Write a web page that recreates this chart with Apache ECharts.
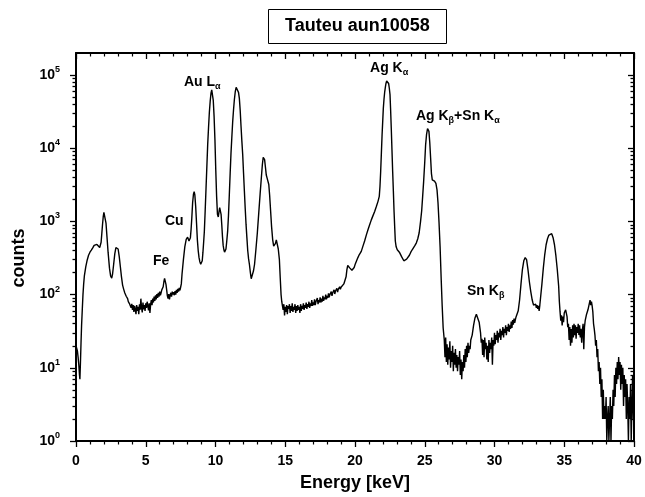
<!DOCTYPE html>
<html>
<head>
<meta charset="utf-8">
<title>Tauteu aun10058</title>
<script src="https://cdn.jsdelivr.net/npm/echarts@6/dist/echarts.min.js"></script>
<style>
  html, body { margin: 0; padding: 0; background: #fff; }
  #chart { width: 645px; height: 497px; }
</style>
</head>
<body>
<div id="chart"></div>
<script>
// spectrum: [energy keV, counts], one array per region
const lowEnergy = [
  [0.00,20],[0.05,19],[0.10,17],[0.15,14],[0.20,11],[0.25,8],[0.28,7],[0.32,12],[0.36,22],[0.40,38],
  [0.45,62],[0.50,100],[0.55,140],[0.60,180],[0.70,240],[0.80,295],[0.90,345],[1.00,380],[1.10,405],
  [1.20,435],[1.30,470],[1.40,495],[1.50,485],[1.60,465],[1.70,440],[1.75,445],[1.80,520],[1.85,680],
  [1.90,900],[1.95,1150],[2.00,1330],[2.03,1380],[2.08,1250],[2.15,950],[2.22,620],[2.30,380],[2.40,230],
  [2.48,180],[2.56,168],[2.62,190],[2.70,260],[2.78,360],[2.86,440],[2.94,460],[3.02,420],[3.10,330],
  [3.18,240],[3.26,175],[3.34,135],[3.42,118],[3.50,105],[3.60,95],[3.65,90]
];
const feRegion = [
  [3.70,88],[3.75,80],[3.80,84],[3.85,74],[3.90,78],[3.95,66],[4.00,75],[4.05,62],[4.10,72],[4.15,58],
  [4.20,70],[4.25,63],[4.30,54],[4.35,72],[4.40,60],[4.45,68],[4.50,54],[4.55,74],[4.60,62],[4.65,88],
  [4.70,66],[4.75,57],[4.80,78],[4.85,63],[4.90,72],[4.95,60],[5.00,76],[5.05,66],[5.10,80],[5.15,70],
  [5.20,61],[5.25,76],[5.30,56],[5.35,74],[5.40,84],[5.45,72],[5.50,88],[5.55,78],[5.60,94],[5.65,82],
  [5.70,98],[5.75,86],[5.80,102],[5.85,90],[5.90,106],[5.95,94],[6.00,110],[6.05,98],[6.10,106],[6.15,116],
  [6.20,110],[6.25,128],[6.30,150],[6.35,166],[6.40,158],[6.45,138],[6.50,116],[6.55,96],[6.60,88],[6.65,102],
  [6.70,86],[6.75,98],[6.80,106],[6.85,94],[6.90,110],[6.95,100],[7.00,108],[7.05,98],[7.10,112],[7.15,100],
  [7.20,116],[7.25,106],[7.30,120],[7.35,110],[7.40,124],[7.45,114],[7.50,126],[7.55,140],[7.60,190]
];
const auLines = [
  [7.70,300],[7.80,450],[7.90,570],[8.00,610],[8.05,600],[8.10,540],[8.15,520],[8.20,600],[8.25,780],
  [8.30,1100],[8.36,1800],[8.42,2350],[8.47,2550],[8.52,2300],[8.58,1600],[8.64,950],[8.70,560],[8.76,400],
  [8.82,320],[8.88,280],[8.94,260],[9.00,250],[9.05,290],[9.10,380],[9.15,520],[9.20,730],[9.26,1400],
  [9.32,2800],[9.38,5600],[9.44,11200],[9.50,19000],[9.56,31000],[9.62,44000],[9.68,57000],[9.73,62500],
  [9.78,60000],[9.84,45000],[9.90,27000],[9.96,13000],[10.02,5000],[10.08,2200],[10.14,1250],[10.20,1150],
  [10.25,1350],[10.30,1540],[10.35,1500],[10.40,1250],[10.45,900],[10.50,620],[10.55,470],[10.60,410],
  [10.65,380],[10.70,375],[10.75,420],[10.80,520],[10.87,730],[10.93,1200],[10.99,2300],[11.05,4500],
  [11.11,8500],[11.17,14000],[11.23,22700],[11.29,33000],[11.35,45600],[11.42,60000],[11.48,68000],
  [11.52,69000],[11.58,66000],[11.65,58000],[11.71,48000],[11.77,33000],[11.83,20000],[11.89,12500],
  [11.95,8200],[12.01,4600],[12.07,2600],[12.13,1500],[12.19,910],[12.25,600],[12.31,400],[12.37,310],
  [12.43,260],[12.50,200],[12.56,165],[12.60,158],[12.66,170],[12.72,210],[12.80,260],[12.90,420],
  [13.00,700],[13.10,1300],[13.20,2400],[13.28,3800],[13.36,6000],[13.42,7500],[13.46,7700],[13.52,7000],
  [13.58,5500],[13.64,4300],[13.70,3900],[13.76,3700],[13.82,3200],[13.88,2300],[13.95,1400],[14.02,850],
  [14.10,560],[14.17,460],[14.23,440],[14.30,500],[14.36,560],[14.42,540],[14.50,420],[14.58,300],
  [14.64,170],[14.70,100],[14.75,80]
];
const flatRegion = [
  [14.80,70],[14.85,62],[14.90,74],[14.95,52],[15.00,68],[15.05,58],[15.10,72],[15.15,54],[15.20,70],
  [15.25,64],[15.30,74],[15.35,56],[15.40,70],[15.45,60],[15.50,76],[15.55,58],[15.60,68],[15.65,62],
  [15.70,74],[15.75,56],[15.80,70],[15.85,60],[15.90,72],[15.95,62],[16.00,68],[16.05,56],[16.10,74],
  [16.15,60],[16.20,70],[16.25,64],[16.30,76],[16.35,62],[16.40,72],[16.45,66],[16.50,78],[16.55,64],
  [16.60,74],[16.65,68],[16.70,80],[16.75,66],[16.80,76],[16.85,70],[16.90,84],[16.95,70],[17.00,78],
  [17.05,72],[17.10,86],[17.15,72],[17.20,80],[17.25,76],[17.30,90],[17.35,74],[17.40,84],[17.45,78],
  [17.50,92],[17.55,78],[17.60,88],[17.65,80],[17.70,96],[17.75,82],[17.80,92],[17.85,86],[17.90,100],
  [17.95,86],[18.00,96],[18.05,90],[18.10,104],[18.15,92],[18.20,100],[18.25,96],[18.30,110],[18.35,96],
  [18.40,106],[18.45,100],[18.50,116],[18.55,102],[18.60,112],[18.65,108],[18.70,122],[18.75,108],
  [18.80,118],[18.85,114],[18.90,128],[18.95,118],[19.00,126],[19.05,124],[19.10,134],[19.20,140],[19.30,145]
];
const agLines = [
  [19.36,175],[19.42,220],[19.48,250],[19.54,240],[19.62,232],[19.70,225],[19.78,215],[19.86,210],
  [19.94,235],[20.00,255],[20.10,285],[20.20,318],[20.30,350],[20.45,390],[20.57,460],[20.69,540],
  [20.81,650],[20.93,770],[21.05,900],[21.17,1050],[21.29,1200],[21.41,1370],[21.53,1600],[21.65,1880],
  [21.74,2200],[21.79,3000],[21.84,4800],[21.89,8500],[21.94,15000],[21.99,24000],[22.03,35000],
  [22.08,47000],[22.13,59000],[22.18,69000],[22.22,76700],[22.27,83000],[22.32,85500],[22.37,83000],
  [22.41,76700],[22.46,66000],[22.51,54000],[22.55,35000],[22.60,18700],[22.65,9500],[22.70,4800],
  [22.75,2600],[22.80,1370],[22.85,800],[22.89,540],[22.95,450],[23.03,410],[23.10,395],[23.18,380],
  [23.26,360],[23.34,330],[23.42,310],[23.50,290],[23.56,280],[23.62,290],[23.70,305],[23.80,320],
  [23.90,345],[24.00,380],[24.10,410],[24.20,440],[24.30,470],[24.40,510],[24.50,580],[24.60,700],
  [24.70,1000],[24.78,1400],[24.85,2200],[24.92,3500],[25.00,6500],[25.06,11000],[25.13,15500],
  [25.20,18500],[25.25,18800],[25.30,17000],[25.36,12000],[25.42,7400],[25.48,4500],[25.54,3700],
  [25.62,3650],[25.70,3550],[25.80,3300],[25.88,2700],[25.95,1800],[26.02,1000],[26.10,450],[26.18,160],
  [26.25,70],[26.32,35]
];
const snRegion = [
  [26.40,24],[26.45,14],[26.50,26],[26.55,12],[26.60,21],[26.65,11],[26.70,19],[26.75,13],[26.80,23],
  [26.85,10],[26.90,17],[26.95,12],[27.00,20],[27.05,9],[27.10,16],[27.15,11],[27.20,18],[27.25,10],
  [27.30,15],[27.35,9],[27.40,14],[27.45,11],[27.50,17],[27.55,8],[27.60,13],[27.65,7],[27.70,12],
  [27.75,9],[27.80,15],[27.85,10],[27.90,18],[27.95,12],[28.00,20],[28.05,14],[28.10,22],[28.15,16],
  [28.20,20],[28.25,18],[28.30,24],[28.40,28],[28.50,38],[28.60,48],[28.70,54],[28.75,56],[28.80,52],
  [28.90,42],[29.00,30],[29.05,22],[29.10,25],[29.15,15],[29.20,24],[29.25,14],[29.30,26],[29.35,18],
  [29.40,22],[29.45,13],[29.50,20],[29.55,12],[29.60,24],[29.65,16],[29.70,22],[29.75,18],[29.80,26],
  [29.85,11],[29.90,24],[29.95,20],[30.00,30],[30.05,21],[30.10,28],[30.15,24],[30.20,32],[30.25,22],
  [30.30,30],[30.35,26],[30.40,34],[30.45,24],[30.50,32],[30.55,28],[30.60,36],[30.65,26],[30.70,34],
  [30.75,30],[30.80,38],[30.85,28],[30.90,36],[30.95,32],[31.00,40],[31.05,31],[31.10,38],[31.15,34],
  [31.20,43],[31.25,35],[31.30,45],[31.35,39],[31.40,47],[31.45,41],[31.50,46],[31.55,50],[31.60,48]
];
const sbRegion = [
  [31.70,60],[31.80,85],[31.90,140],[32.00,220],[32.10,290],[32.20,320],[32.30,300],[32.40,220],
  [32.50,150],[32.60,110],[32.70,85],[32.75,78],[32.80,72],[32.85,76],[32.90,68],[32.95,74],[33.00,66],
  [33.05,72],[33.10,64],[33.15,70],[33.20,60],[33.25,72],[33.30,90],[33.40,140],[33.50,230],[33.60,350],
  [33.70,480],[33.80,580],[33.90,650],[34.00,690],[34.10,680],[34.20,600],[34.30,480],[34.40,340],
  [34.50,220],[34.60,130],[34.65,80],[34.70,58],[34.75,44],[34.80,52],[34.85,38],[34.90,50],[34.95,42],
  [35.00,56],[35.10,62],[35.15,66],[35.20,50],[35.25,36],[35.30,40],[35.35,24],[35.40,36],[35.45,20],
  [35.50,34],[35.55,22],[35.60,38],[35.65,26],[35.70,40],[35.75,28],[35.80,38],[35.85,25],[35.90,36],
  [35.95,30],[36.00,40],[36.05,28],[36.10,38],[36.15,26],[36.20,34],[36.25,22],[36.30,32],[36.35,40],
  [36.40,18],[36.45,36],[36.50,44],[36.60,54],[36.70,62],[36.80,76],[36.85,84],[36.90,72],[36.95,80],
  [37.00,70],[37.05,58],[37.10,40]
];
const tailRegion = [
  [37.15,34],[37.20,28],[37.25,20],[37.30,24],[37.35,14],[37.40,18],[37.45,9],[37.50,12],[37.55,6],
  [37.60,10],[37.65,4],[37.70,7],[37.75,2],[37.80,5],[37.85,2],[37.90,3],[37.95,2],[38.00,4],[38.05,1],
  [38.10,2],[38.15,3],[38.20,1],[38.25,2],[38.30,4],[38.35,1],[38.40,3],[38.45,2],[38.50,5],[38.55,3],
  [38.60,8],[38.65,4],[38.70,10],[38.75,6],[38.80,12],[38.85,7],[38.90,14],[38.95,8],[39.00,12],[39.05,5],
  [39.10,11],[39.15,6],[39.20,10],[39.25,3],[39.30,8],[39.35,4],[39.40,7],[39.45,2],[39.50,6],[39.55,3],
  [39.60,1],[39.65,4],[39.70,2],[39.75,6],[39.80,1],[39.85,3],[39.90,8],[39.95,2],[40.00,5]
];

// peak labels, anchored at their left edge
const peakNames = ['{m|Au L}{s|α}', '{m|Cu}', '{m|Fe}', '{m|Ag K}{s|α}', '{m|Ag K}{s|β}{m|+Sn K}{s|α}', '{m|Sn K}{s|β}'];
const peakEnergy = [7.74, 6.38, 5.52, 21.08, 24.37, 28.03];
const peakCounts = [80000, 1020, 287, 125000, 27700, 113];

const yMajor = [1, 10, 100, 1000, 10000, 100000];
const yMinor = [2, 3, 4, 5, 6, 7, 8, 9, 20, 30, 40, 50, 60, 70, 80, 90,
  200, 300, 400, 500, 600, 700, 800, 900, 2000, 3000, 4000, 5000, 6000, 7000, 8000, 9000,
  20000, 30000, 40000, 50000, 60000, 70000, 80000, 90000];

const spectrum = [].concat(lowEnergy, feRegion, auLines, flatRegion, agLines, snRegion, sbRegion, tailRegion);

const font = 'Liberation Sans, Arial, Helvetica, sans-serif';
const black = '#000';

function logAxis(pos, ticks, len, inside, showLine) {
  return {
    type: 'log', logBase: 10, min: 1, max: 200000, position: pos,
    axisLine: { show: showLine, onZero: false, lineStyle: { color: black, width: 2 } },
    axisTick: { show: true, inside: inside, customValues: ticks, length: len, lineStyle: { color: black, width: 1.3 } },
    axisLabel: { show: false },
    splitLine: { show: false }
  };
}

function xAxisAt(pos, inside) {
  return {
    type: 'value', min: 0, max: 40, interval: 5, position: pos,
    axisLine: { show: true, onZero: false, lineStyle: { color: black, width: 2 } },
    axisTick: { show: true, inside: inside, length: 6, lineStyle: { color: black, width: 1.3 } },
    minorTick: { show: true, splitNumber: 5, length: 3.5, lineStyle: { color: black, width: 1.2 } },
    axisLabel: { show: false },
    splitLine: { show: false }
  };
}

const leftMajor = logAxis('left', yMajor, 6, false, true);
leftMajor.axisLabel = {
  show: true, customValues: yMajor, margin: 16,
  formatter: v => '{b|10}{p|' + Math.round(Math.log10(v)) + '}',
  rich: {
    b: { fontFamily: font, fontWeight: 'bold', fontSize: 14, color: black, lineHeight: 20 },
    p: { fontFamily: font, fontWeight: 'bold', fontSize: 9, color: black, lineHeight: 9, verticalAlign: 'top' }
  }
};
leftMajor.name = 'counts';
leftMajor.nameLocation = 'middle';
leftMajor.nameGap = 47;
leftMajor.nameTextStyle = { fontFamily: font, fontWeight: 'bold', fontSize: 18, color: black, padding: [0, 22, 0, 0] };

const bottomAxis = xAxisAt('bottom', false);
bottomAxis.axisLabel = { show: true, margin: 13, fontFamily: font, fontWeight: 'bold', fontSize: 14, color: black };
bottomAxis.name = 'Energy [keV]';
bottomAxis.nameLocation = 'middle';
bottomAxis.nameGap = 33;
bottomAxis.nameTextStyle = { fontFamily: font, fontWeight: 'bold', fontSize: 18, color: black };

const chart = echarts.init(document.getElementById('chart'), null, { renderer: 'canvas' });
chart.setOption({
  animation: false,
  backgroundColor: '#fff',
  title: {
    text: 'Tauteu aun10058', left: 268, top: 9,
    borderWidth: 1, borderColor: black, padding: [7, 17],
    textStyle: { fontFamily: font, fontWeight: 'bold', fontSize: 18, lineHeight: 21, color: black }
  },
  grid: { left: 76, right: 11, top: 53, bottom: 55, containLabel: false },
  xAxis: [bottomAxis, xAxisAt('top', true)],
  yAxis: [
    leftMajor,
    logAxis('left', yMinor, 3.5, false, false),
    logAxis('right', yMajor, 6, true, true),
    logAxis('right', yMinor, 3.5, true, false)
  ],
  series: [
    {
      type: 'line', xAxisIndex: 0, yAxisIndex: 0,
      data: spectrum, showSymbol: false, symbol: 'none',
      lineStyle: { color: black, width: 1.4 },
      silent: true
    },
    {
      type: 'scatter', xAxisIndex: 0, yAxisIndex: 0,
      data: peakEnergy.map((e, i) => [e, peakCounts[i]]),
      symbolSize: 0, itemStyle: { color: black, opacity: 1 },
      silent: true,
      label: {
        show: true, position: 'right', distance: 0, color: black,
        formatter: p => peakNames[p.dataIndex],
        rich: {
          m: { fontFamily: font, fontWeight: 'bold', fontSize: 14, color: black, lineHeight: 18 },
          s: { fontFamily: font, fontWeight: 'bold', fontSize: 9, color: black, lineHeight: 8, verticalAlign: 'bottom' }
        }
      }
    }
  ]
});
</script>
</body>
</html>
